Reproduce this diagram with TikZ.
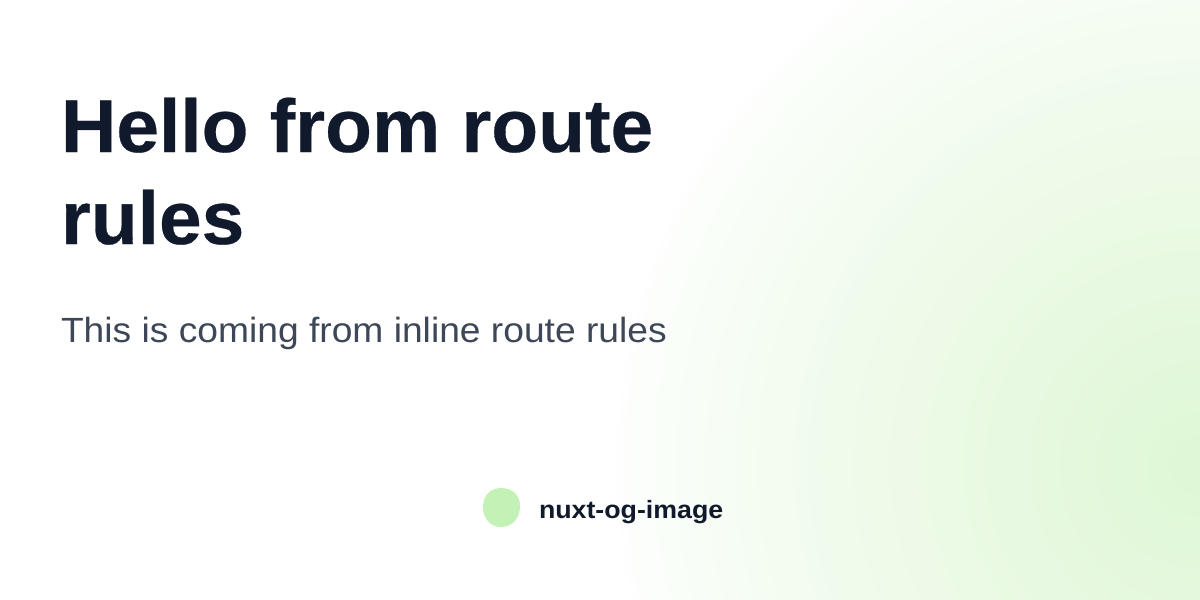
\documentclass[tikz,border=0pt]{standalone}
\usepackage{xcolor}
\usepackage{fontspec}
\setmainfont{Liberation Sans}
\newfontfamily\titlefont[FakeStretch=1.0225,FakeBold=0.4]{Liberation Sans Bold}
\newfontfamily\subfont[FakeStretch=1.063]{Liberation Sans}
\newfontfamily\brandfont[FakeStretch=1.07]{Liberation Sans Bold}
\usetikzlibrary{positioning}
\definecolor{inkdark}{HTML}{111A2C}
\definecolor{inksub}{HTML}{3D4757}
\definecolor{glow}{HTML}{DFF7D6}
\definecolor{blob}{HTML}{C4F1B5}

\begin{document}
\begin{tikzpicture}[
  x=1pt, y=-1pt,
  every node/.style={inner sep=0pt, outer sep=0pt, anchor=base west},
  titletext/.style={font=\titlefont\fontsize{75}{92}\selectfont, text=inkdark},
  subtext/.style={font=\subfont\fontsize{35}{42}\selectfont, text=inksub},
  brandtext/.style={font=\brandfont\fontsize{25}{30}\selectfont, text=inkdark}
]
\useasboundingbox (0,0) rectangle (1200,600);
\fill[white] (0,0) rectangle (1200,600);
% soft glow, outermost ring first
\begin{scope}
  \clip (0,0) rectangle (1200,600);
  \foreach \i in {0,...,79}{
    \pgfmathsetmacro{\mixval}{100*((\i+1)/80)^0.8}
    \pgfmathsetmacro{\radval}{590*(1-\i/80)}
    \fill[glow!\mixval!white] (1200,465) circle (\radval);
  }
\end{scope}
\node[titletext] (title1) at (61,152) {Hello from route};
\node[titletext] (title2) at (61,244) {rules};
\node[subtext] (subtitle) at (61,342) {This is coming from inline route rules};
% logo blob
\fill[blob] (501,488) .. controls (513,488) and (521,496) .. (520,508)
  .. controls (519,520) and (511,527) .. (501,527)
  .. controls (490,527) and (483,518) .. (483,507)
  .. controls (483,496) and (490,488) .. (501,488) -- cycle;
\node[brandtext] (brand) at (539,518) {nuxt-og-image};
\end{tikzpicture}
\end{document}
